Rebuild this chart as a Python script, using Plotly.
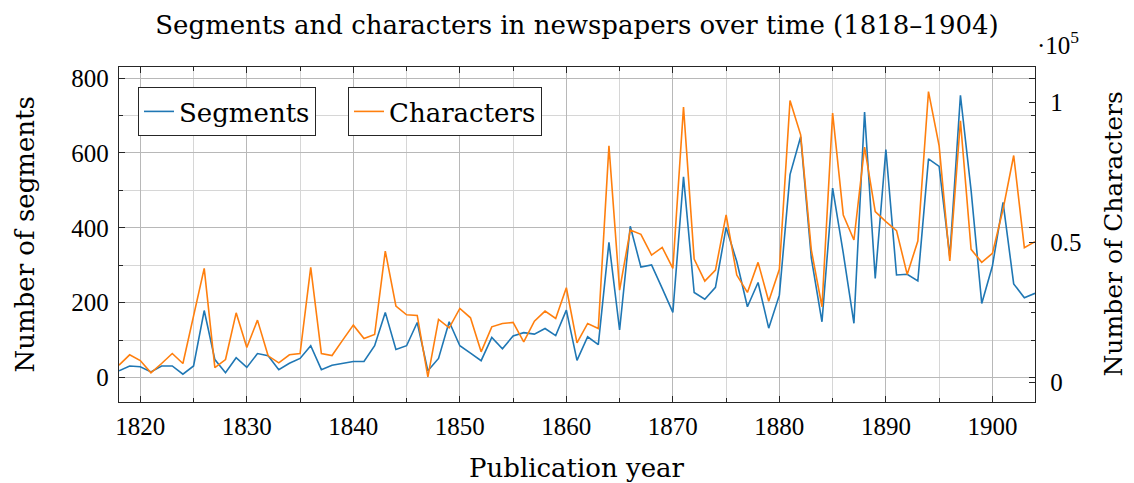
import plotly.graph_objects as go

years = [1818, 1819, 1820, 1821, 1822, 1823, 1824, 1825, 1826, 1827,
         1828, 1829, 1830, 1831, 1832, 1833, 1834, 1835, 1836, 1837,
         1838, 1839, 1840, 1841, 1842, 1843, 1844, 1845, 1846, 1847,
         1848, 1849, 1850, 1851, 1852, 1853, 1854, 1855, 1856, 1857,
         1858, 1859, 1860, 1861, 1862, 1863, 1864, 1865, 1866, 1867,
         1868, 1869, 1870, 1871, 1872, 1873, 1874, 1875, 1876, 1877,
         1878, 1879, 1880, 1881, 1882, 1883, 1884, 1885, 1886, 1887,
         1888, 1889, 1890, 1891, 1892, 1893, 1894, 1895, 1896, 1897,
         1898, 1899, 1900, 1901, 1902, 1903, 1904]

segments = [18, 31, 29, 15, 31, 31, 9, 31, 179, 48,
            13, 53, 27, 64, 58, 21, 38, 51, 85, 21,
            33, 38, 43, 43, 85, 174, 75, 85, 147, 18,
            51, 149, 85, 65, 45, 107, 77, 111, 120, 116,
            131, 112, 180, 46, 109, 88, 361, 127, 404, 295,
            301, 238, 174, 536, 227, 209, 241, 401, 310, 189,
            254, 132, 220, 542, 643, 319, 149, 506, 332, 145,
            709, 265, 609, 274, 276, 258, 584, 564, 323, 754,
            500, 198, 298, 468, 250, 213, 225]

characters = [6200, 9900, 7870, 3460, 6800, 10370, 6800, 23500, 40770, 5360,
              8220, 24900, 12500, 22290, 9540, 7030, 9900, 10370, 41120, 10370,
              9660, 15140, 20500, 15730, 17160, 46960, 27300, 24200, 23960, 2030,
              22530, 19550, 26460, 23120, 10970, 19900, 21100, 21460, 14540, 21930,
              25500, 22890, 33850, 14180, 21100, 19310, 84510, 33020, 54470, 52920,
              45530, 48280, 40770, 98340, 44100, 36240, 40170, 59840, 38380, 32180,
              42910, 29000, 40410, 100700, 88450, 47320, 27060, 96190, 59840, 50900,
              84040, 61030, 57450, 54240, 38620, 50540, 103900, 84510, 43390, 93450,
              47560, 42910, 46130, 61860, 81060, 48160, 50300]

x_ticks = [1820, 1830, 1840, 1850, 1860, 1870, 1880, 1890, 1900]
char_ticks = [0, 50000, 100000]
char_tick_text = ["0", "0.5", "1"]

TEXT_FONT = "DejaVu Serif, serif"
NUM_FONT = "Liberation Serif, serif"
BLUE = "#1f77b4"
ORANGE = "#ff7f0e"

# the page body has an 8px default margin; lay the figure out in page pixels minus that
OFF = 8
W, H = 1134 - OFF, 483 - OFF
PL, PR, PT, PB = 119 - OFF, 1035 - OFF, 67 - OFF, 402 - OFF  # plot area in figure px
PW, PH = PR - PL, PB - PT

fig = go.Figure()
fig.add_trace(go.Scatter(x=years, y=segments, name="Segments", mode="lines",
                         line=dict(color=BLUE, width=1.6), yaxis="y", legend="legend",
                         showlegend=True))
fig.add_trace(go.Scatter(x=years, y=characters, name="Characters", mode="lines",
                         line=dict(color=ORANGE, width=1.6), yaxis="y2", legend="legend2",
                         showlegend=True))

grid_major = "#b8b8b8"
grid_minor = "#d6d6d6"
frame = "#262626"

axis_common = dict(ticks="inside", ticklen=6, tickcolor=frame, showline=True,
                   linecolor=frame, linewidth=1.3, zeroline=False, automargin=False,
                   tickfont=dict(family=NUM_FONT, size=25))

fig.update_layout(
    width=W, height=H,
    margin=dict(l=PL, r=W - PR, t=PT, b=H - PB),
    plot_bgcolor="white", paper_bgcolor="white",
    showlegend=True,
    font=dict(family=TEXT_FONT, size=25, color="black"),
    title=dict(text="Segments and characters in newspapers over time (1818–1904)",
               x=0.5, xanchor="center", xref="paper", y=1 - (25 - OFF) / H, yanchor="middle",
               yref="container", font=dict(family=TEXT_FONT, size=26)),
    xaxis=dict(range=[1818, 1904], tickvals=x_ticks, showgrid=True, gridcolor=grid_major,
               gridwidth=1, mirror="ticks", ticklabelstandoff=2,
               minor=dict(dtick=5, tick0=1820, showgrid=True, gridcolor=grid_minor,
                          ticks="inside", ticklen=4, tickcolor=frame),
               **axis_common),
    yaxis=dict(range=[-65.3, 829.4], tick0=0, dtick=200, showgrid=True, gridcolor=grid_major,
               gridwidth=1, mirror="ticks", ticklabelstandoff=4,
               minor=dict(dtick=100, tick0=0, showgrid=True, gridcolor=grid_minor,
                          ticks="inside", ticklen=4, tickcolor=frame),
               **axis_common),
    yaxis2=dict(overlaying="y", side="right", range=[-6940, 112660], tickvals=char_ticks,
                ticktext=char_tick_text, showgrid=False, ticklabelstandoff=9,
                minor=dict(tickvals=[25000, 75000], ticks="inside", ticklen=4, tickcolor=frame),
                **axis_common),
    legend=dict(x=(138 - 119) / PW, y=1 - (87 - 67) / PH, xanchor="left", yanchor="top",
                bgcolor="white", bordercolor=frame, borderwidth=1,
                font=dict(family=TEXT_FONT, size=26)),
    legend2=dict(x=(348 - 119) / PW, y=1 - (87 - 67) / PH, xanchor="left", yanchor="top",
                 bgcolor="white", bordercolor=frame, borderwidth=1,
                 font=dict(family=TEXT_FONT, size=26)),
    annotations=[
        dict(text="·10<sup>5</sup>", xref="paper", yref="paper", x=1.0, y=1.0,
             xanchor="left", yanchor="bottom", yshift=6, showarrow=False,
             font=dict(family=NUM_FONT, size=25)),
        dict(text="Publication year", xref="paper", yref="paper", x=0.5, y=0,
             xanchor="center", yanchor="middle", yshift=-(468 - 402), showarrow=False,
             font=dict(family=TEXT_FONT, size=26)),
        dict(text="Number of segments", xref="paper", yref="paper", x=0, y=0.5,
             xanchor="center", yanchor="middle", xshift=-(119 - 24), showarrow=False,
             textangle=-90, font=dict(family=TEXT_FONT, size=26)),
        dict(text="Number of Characters", xref="paper", yref="paper", x=1, y=0.5,
             xanchor="center", yanchor="middle", xshift=1113 - 1035, showarrow=False,
             textangle=-90, font=dict(family=TEXT_FONT, size=25)),
    ],
)

fig.write_html("out.html")
